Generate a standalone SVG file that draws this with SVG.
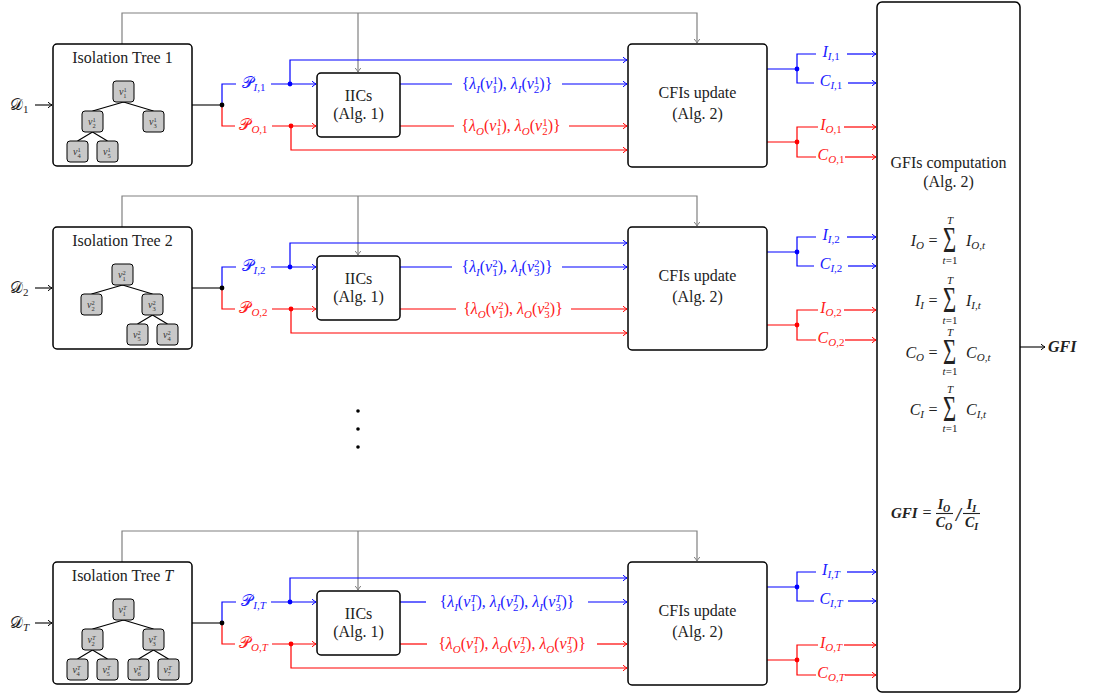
<svg xmlns="http://www.w3.org/2000/svg" width="1099" height="695" viewBox="0 0 1099 695">
<style>
text{font-family:"Liberation Serif","DejaVu Serif",serif;font-size:16px;fill:#222}
.m{font-style:italic}
.s{font-size:11px}
.bf{font-weight:bold}
.nv{font-size:10px;font-style:italic;fill:#333}
.ns{font-size:6.5px;font-style:normal}
.nsi{font-size:6.5px;font-style:italic}
.tb{fill:#2020ff}
.tr{fill:#ff2020}
.box{fill:#fff;stroke:#000;stroke-width:1.5}
.node{fill:#c8c8c8;stroke:#000;stroke-width:1}
.b{fill:none;stroke:#0000ff;stroke-width:1.2}
.r{fill:none;stroke:#ff0000;stroke-width:1.2}
.g{fill:none;stroke:#808080;stroke-width:1.2}
.k{fill:none;stroke:#000;stroke-width:1.1}
.sig{font-size:30px}
.f14{font-size:14px}
.f10{font-size:10px}
.db{fill:#0000ff}.dr{fill:#ff0000}.dk{fill:#000}
</style>
<defs>
<marker id="ab" viewBox="-5 -4 6 8" refX="0" refY="0" markerWidth="6" markerHeight="8" markerUnits="userSpaceOnUse" orient="auto"><path d="M-4,-2.8 Q-1.2,-0.6 0,0 Q-1.2,0.6 -4,2.8" fill="none" stroke="#0000ff" stroke-width="1"/></marker>
<marker id="ar" viewBox="-5 -4 6 8" refX="0" refY="0" markerWidth="6" markerHeight="8" markerUnits="userSpaceOnUse" orient="auto"><path d="M-4,-2.8 Q-1.2,-0.6 0,0 Q-1.2,0.6 -4,2.8" fill="none" stroke="#ff0000" stroke-width="1"/></marker>
<marker id="ag" viewBox="-5 -4 6 8" refX="0" refY="0" markerWidth="6" markerHeight="8" markerUnits="userSpaceOnUse" orient="auto"><path d="M-4,-2.8 Q-1.2,-0.6 0,0 Q-1.2,0.6 -4,2.8" fill="none" stroke="#808080" stroke-width="1"/></marker>
<marker id="ak" viewBox="-5 -4 6 8" refX="0" refY="0" markerWidth="6" markerHeight="8" markerUnits="userSpaceOnUse" orient="auto"><path d="M-4,-2.8 Q-1.2,-0.6 0,0 Q-1.2,0.6 -4,2.8" fill="none" stroke="#000" stroke-width="1"/></marker>
</defs>
<rect width="1099" height="695" fill="#fff"/>

<!-- ================= CONNECTORS ================= -->
<g id="connectors">
  <!-- row 1 -->
  <g id="conn-row1">
    <path class="g" d="M122,44 V13 H697 V43" marker-end="url(#ag)"/>
    <path class="g" d="M358,13 V72" marker-end="url(#ag)"/>
    <path class="k" d="M35,105 H52" marker-end="url(#ak)"/>
    <path class="k" d="M192,105 H222"/>
    <path class="b" d="M222,105 V84 H236"/>
    <path class="b" d="M271,84 H316" marker-end="url(#ab)"/>
    <path class="b" d="M290,84 V60 H627" marker-end="url(#ab)"/>
    <path class="b" d="M400,84 H452"/>
    <path class="b" d="M562,84 H627" marker-end="url(#ab)"/>
    <path class="r" d="M222,105 V126 H235"/>
    <path class="r" d="M272,126 H316" marker-end="url(#ar)"/>
    <path class="r" d="M291,126 V150 H627" marker-end="url(#ar)"/>
    <path class="r" d="M400,126 H454"/>
    <path class="r" d="M569,126 H627" marker-end="url(#ar)"/>
    <path class="b" d="M767,69 H797 M816,54 H797 V83 H814"/>
    <path class="b" d="M847,54 H876" marker-end="url(#ab)"/>
    <path class="b" d="M848,83 H876" marker-end="url(#ab)"/>
    <path class="r" d="M767,142 H797 M818,127 H797 V157 H816"/>
    <path class="r" d="M844,127 H876" marker-end="url(#ar)"/>
    <path class="r" d="M845,157 H876" marker-end="url(#ar)"/>
    <circle class="dk" cx="222" cy="105" r="2.4"/>
    <circle class="db" cx="290" cy="84" r="2.4"/>
    <circle class="dr" cx="291" cy="126" r="2.4"/>
    <circle class="db" cx="797" cy="69" r="2.4"/>
    <circle class="dr" cx="797" cy="142" r="2.4"/>
    <text x="10" y="110">𝒟<tspan class="s" dy="3">1</tspan></text>
    <text class="tb" x="253.5" y="88" text-anchor="middle">𝒫<tspan class="s m" dy="3">I</tspan><tspan class="s">,1</tspan></text>
    <text class="tr" x="253.5" y="130" text-anchor="middle">𝒫<tspan class="s m" dy="3">O</tspan><tspan class="s">,1</tspan></text>
    <text class="tb" x="507" y="89" text-anchor="middle">{<tspan class="m">λ</tspan><tspan class="s m" dy="3.5">I</tspan><tspan dy="-3.5">(</tspan><tspan class="m">v</tspan><tspan class="s" dy="-5.5">1</tspan><tspan class="s" dx="-5.5" dy="9">1</tspan><tspan dy="-3.5">), </tspan><tspan class="m">λ</tspan><tspan class="s m" dy="3.5">I</tspan><tspan dy="-3.5">(</tspan><tspan class="m">v</tspan><tspan class="s" dy="-5.5">1</tspan><tspan class="s" dx="-5.5" dy="9">2</tspan><tspan dy="-3.5">)}</tspan></text>
    <text class="tr" x="511" y="131" text-anchor="middle">{<tspan class="m">λ</tspan><tspan class="s m" dy="3.5">O</tspan><tspan dy="-3.5">(</tspan><tspan class="m">v</tspan><tspan class="s" dy="-5.5">1</tspan><tspan class="s" dx="-5.5" dy="9">1</tspan><tspan dy="-3.5">), </tspan><tspan class="m">λ</tspan><tspan class="s m" dy="3.5">O</tspan><tspan dy="-3.5">(</tspan><tspan class="m">v</tspan><tspan class="s" dy="-5.5">1</tspan><tspan class="s" dx="-5.5" dy="9">2</tspan><tspan dy="-3.5">)}</tspan></text>
    <text class="tb" x="831" y="57" text-anchor="middle"><tspan class="m">I</tspan><tspan class="s m" dy="3">I</tspan><tspan class="s">,1</tspan></text>
    <text class="tb" x="831" y="86" text-anchor="middle"><tspan class="m">C</tspan><tspan class="s m" dy="3">I</tspan><tspan class="s">,1</tspan></text>
    <text class="tr" x="831" y="130" text-anchor="middle"><tspan class="m">I</tspan><tspan class="s m" dy="3">O</tspan><tspan class="s">,1</tspan></text>
    <text class="tr" x="831" y="160" text-anchor="middle"><tspan class="m">C</tspan><tspan class="s m" dy="3">O</tspan><tspan class="s">,1</tspan></text>
  </g>
  <!-- row 2 -->
  <g id="conn-row2" transform="translate(0,183)">
    <path class="g" d="M122,44 V13 H697 V43" marker-end="url(#ag)"/>
    <path class="g" d="M358,13 V72" marker-end="url(#ag)"/>
    <path class="k" d="M35,105 H52" marker-end="url(#ak)"/>
    <path class="k" d="M192,105 H222"/>
    <path class="b" d="M222,105 V84 H236"/>
    <path class="b" d="M271,84 H316" marker-end="url(#ab)"/>
    <path class="b" d="M290,84 V60 H627" marker-end="url(#ab)"/>
    <path class="b" d="M400,84 H452"/>
    <path class="b" d="M562,84 H627" marker-end="url(#ab)"/>
    <path class="r" d="M222,105 V126 H235"/>
    <path class="r" d="M272,126 H316" marker-end="url(#ar)"/>
    <path class="r" d="M291,126 V150 H627" marker-end="url(#ar)"/>
    <path class="r" d="M400,126 H456"/>
    <path class="r" d="M571,126 H627" marker-end="url(#ar)"/>
    <path class="b" d="M767,69 H797 M816,54 H797 V83 H814"/>
    <path class="b" d="M847,54 H876" marker-end="url(#ab)"/>
    <path class="b" d="M848,83 H876" marker-end="url(#ab)"/>
    <path class="r" d="M767,142 H797 M818,127 H797 V157 H816"/>
    <path class="r" d="M844,127 H876" marker-end="url(#ar)"/>
    <path class="r" d="M845,157 H876" marker-end="url(#ar)"/>
    <circle class="dk" cx="222" cy="105" r="2.4"/>
    <circle class="db" cx="290" cy="84" r="2.4"/>
    <circle class="dr" cx="291" cy="126" r="2.4"/>
    <circle class="db" cx="797" cy="69" r="2.4"/>
    <circle class="dr" cx="797" cy="142" r="2.4"/>
    <text x="10" y="110">𝒟<tspan class="s" dy="3">2</tspan></text>
    <text class="tb" x="253.5" y="88" text-anchor="middle">𝒫<tspan class="s m" dy="3">I</tspan><tspan class="s">,2</tspan></text>
    <text class="tr" x="253.5" y="130" text-anchor="middle">𝒫<tspan class="s m" dy="3">O</tspan><tspan class="s">,2</tspan></text>
    <text class="tb" x="507" y="89" text-anchor="middle">{<tspan class="m">λ</tspan><tspan class="s m" dy="3.5">I</tspan><tspan dy="-3.5">(</tspan><tspan class="m">v</tspan><tspan class="s" dy="-5.5">2</tspan><tspan class="s" dx="-5.5" dy="9">1</tspan><tspan dy="-3.5">), </tspan><tspan class="m">λ</tspan><tspan class="s m" dy="3.5">I</tspan><tspan dy="-3.5">(</tspan><tspan class="m">v</tspan><tspan class="s" dy="-5.5">2</tspan><tspan class="s" dx="-5.5" dy="9">3</tspan><tspan dy="-3.5">)}</tspan></text>
    <text class="tr" x="513" y="131" text-anchor="middle">{<tspan class="m">λ</tspan><tspan class="s m" dy="3.5">O</tspan><tspan dy="-3.5">(</tspan><tspan class="m">v</tspan><tspan class="s" dy="-5.5">2</tspan><tspan class="s" dx="-5.5" dy="9">1</tspan><tspan dy="-3.5">), </tspan><tspan class="m">λ</tspan><tspan class="s m" dy="3.5">O</tspan><tspan dy="-3.5">(</tspan><tspan class="m">v</tspan><tspan class="s" dy="-5.5">2</tspan><tspan class="s" dx="-5.5" dy="9">3</tspan><tspan dy="-3.5">)}</tspan></text>
    <text class="tb" x="831" y="57" text-anchor="middle"><tspan class="m">I</tspan><tspan class="s m" dy="3">I</tspan><tspan class="s">,2</tspan></text>
    <text class="tb" x="831" y="86" text-anchor="middle"><tspan class="m">C</tspan><tspan class="s m" dy="3">I</tspan><tspan class="s">,2</tspan></text>
    <text class="tr" x="831" y="130" text-anchor="middle"><tspan class="m">I</tspan><tspan class="s m" dy="3">O</tspan><tspan class="s">,2</tspan></text>
    <text class="tr" x="831" y="160" text-anchor="middle"><tspan class="m">C</tspan><tspan class="s m" dy="3">O</tspan><tspan class="s">,2</tspan></text>
  </g>
  <!-- row T -->
  <g id="conn-rowT" transform="translate(0,518)">
    <path class="g" d="M122,44 V13 H697 V43" marker-end="url(#ag)"/>
    <path class="g" d="M358,13 V72" marker-end="url(#ag)"/>
    <path class="k" d="M35,105 H52" marker-end="url(#ak)"/>
    <path class="k" d="M192,105 H222"/>
    <path class="b" d="M222,105 V84 H236"/>
    <path class="b" d="M271,84 H316" marker-end="url(#ab)"/>
    <path class="b" d="M290,84 V60 H627" marker-end="url(#ab)"/>
    <path class="b" d="M400,84 H426"/>
    <path class="b" d="M588,84 H627" marker-end="url(#ab)"/>
    <path class="r" d="M222,105 V126 H235"/>
    <path class="r" d="M272,126 H316" marker-end="url(#ar)"/>
    <path class="r" d="M291,126 V150 H627" marker-end="url(#ar)"/>
    <path class="r" d="M400,126 H427"/>
    <path class="r" d="M597,126 H627" marker-end="url(#ar)"/>
    <path class="b" d="M767,69 H797 M816,54 H797 V83 H814"/>
    <path class="b" d="M847,54 H876" marker-end="url(#ab)"/>
    <path class="b" d="M848,83 H876" marker-end="url(#ab)"/>
    <path class="r" d="M767,142 H797 M818,127 H797 V157 H816"/>
    <path class="r" d="M844,127 H876" marker-end="url(#ar)"/>
    <path class="r" d="M845,157 H876" marker-end="url(#ar)"/>
    <circle class="dk" cx="222" cy="105" r="2.4"/>
    <circle class="db" cx="290" cy="84" r="2.4"/>
    <circle class="dr" cx="291" cy="126" r="2.4"/>
    <circle class="db" cx="797" cy="69" r="2.4"/>
    <circle class="dr" cx="797" cy="142" r="2.4"/>
    <text x="10" y="110">𝒟<tspan class="s m" dy="3">T</tspan></text>
    <text class="tb" x="253.5" y="88" text-anchor="middle">𝒫<tspan class="s m" dy="3">I</tspan><tspan class="s">,</tspan><tspan class="s m">T</tspan></text>
    <text class="tr" x="253.5" y="130" text-anchor="middle">𝒫<tspan class="s m" dy="3">O</tspan><tspan class="s">,</tspan><tspan class="s m">T</tspan></text>
    <text class="tb" x="507" y="89" text-anchor="middle">{<tspan class="m">λ</tspan><tspan class="s m" dy="3.5">I</tspan><tspan dy="-3.5">(</tspan><tspan class="m">v</tspan><tspan class="s m" dy="-5.5">T</tspan><tspan class="s" dx="-6" dy="9">1</tspan><tspan dx="0.5" dy="-3.5">), </tspan><tspan class="m">λ</tspan><tspan class="s m" dy="3.5">I</tspan><tspan dy="-3.5">(</tspan><tspan class="m">v</tspan><tspan class="s m" dy="-5.5">T</tspan><tspan class="s" dx="-6" dy="9">2</tspan><tspan dx="0.5" dy="-3.5">), </tspan><tspan class="m">λ</tspan><tspan class="s m" dy="3.5">I</tspan><tspan dy="-3.5">(</tspan><tspan class="m">v</tspan><tspan class="s m" dy="-5.5">T</tspan><tspan class="s" dx="-6" dy="9">3</tspan><tspan dx="0.5" dy="-3.5">)}</tspan></text>
    <text class="tr" x="512" y="131" text-anchor="middle">{<tspan class="m">λ</tspan><tspan class="s m" dy="3.5">O</tspan><tspan dy="-3.5">(</tspan><tspan class="m">v</tspan><tspan class="s m" dy="-5.5">T</tspan><tspan class="s" dx="-6" dy="9">1</tspan><tspan dx="0.5" dy="-3.5">), </tspan><tspan class="m">λ</tspan><tspan class="s m" dy="3.5">O</tspan><tspan dy="-3.5">(</tspan><tspan class="m">v</tspan><tspan class="s m" dy="-5.5">T</tspan><tspan class="s" dx="-6" dy="9">2</tspan><tspan dx="0.5" dy="-3.5">), </tspan><tspan class="m">λ</tspan><tspan class="s m" dy="3.5">O</tspan><tspan dy="-3.5">(</tspan><tspan class="m">v</tspan><tspan class="s m" dy="-5.5">T</tspan><tspan class="s" dx="-6" dy="9">3</tspan><tspan dx="0.5" dy="-3.5">)}</tspan></text>
    <text class="tb" x="831" y="57" text-anchor="middle"><tspan class="m">I</tspan><tspan class="s m" dy="3">I</tspan><tspan class="s">,</tspan><tspan class="s m">T</tspan></text>
    <text class="tb" x="831" y="86" text-anchor="middle"><tspan class="m">C</tspan><tspan class="s m" dy="3">I</tspan><tspan class="s">,</tspan><tspan class="s m">T</tspan></text>
    <text class="tr" x="831" y="130" text-anchor="middle"><tspan class="m">I</tspan><tspan class="s m" dy="3">O</tspan><tspan class="s">,</tspan><tspan class="s m">T</tspan></text>
    <text class="tr" x="831" y="160" text-anchor="middle"><tspan class="m">C</tspan><tspan class="s m" dy="3">O</tspan><tspan class="s">,</tspan><tspan class="s m">T</tspan></text>
  </g>
  <path class="k" d="M1020,347 H1045" marker-end="url(#ak)"/>
  <text class="bf m" x="1048" y="352" style="font-size:16px">GFI</text>
</g>

<!-- ================= NODES ================= -->
<!-- Row 1 -->
<g id="tree1">
  <rect class="box" x="53" y="44" width="139" height="122" rx="4"/>
  <text x="122.5" y="62.5" text-anchor="middle">Isolation Tree 1</text>
  <path class="k" d="M123.5,102 L92.5,111 M123.5,102 L153.5,111 M92.5,132 L77.5,141 M92.5,132 L107.5,141"/>
  <rect class="node" x="113" y="81" width="21" height="21" rx="3"/>
  <rect class="node" x="82" y="111" width="21" height="21" rx="3"/>
  <rect class="node" x="143" y="111" width="21" height="21" rx="3"/>
  <rect class="node" x="67" y="141" width="21" height="21" rx="3"/>
  <rect class="node" x="97" y="141" width="21" height="21" rx="3"/>
  <text class="nv" x="119" y="95">v<tspan class="ns" dy="-3.5">1</tspan><tspan class="ns" dx="-3.3" dy="6.5">1</tspan></text>
  <text class="nv" x="88" y="125">v<tspan class="ns" dy="-3.5">1</tspan><tspan class="ns" dx="-3.3" dy="6.5">2</tspan></text>
  <text class="nv" x="149" y="125">v<tspan class="ns" dy="-3.5">1</tspan><tspan class="ns" dx="-3.3" dy="6.5">3</tspan></text>
  <text class="nv" x="73" y="155">v<tspan class="ns" dy="-3.5">1</tspan><tspan class="ns" dx="-3.3" dy="6.5">4</tspan></text>
  <text class="nv" x="103" y="155">v<tspan class="ns" dy="-3.5">1</tspan><tspan class="ns" dx="-3.3" dy="6.5">5</tspan></text>
</g>
<g id="iic1">
  <rect class="box" x="317" y="73" width="83" height="64" rx="4"/>
  <text x="358.5" y="100.5" text-anchor="middle">IICs</text>
  <text x="358.5" y="118.5" text-anchor="middle">(Alg. 1)</text>
</g>
<g id="cfi1">
  <rect class="box" x="628" y="44" width="139" height="123" rx="4"/>
  <text x="697.5" y="98" text-anchor="middle">CFIs update</text>
  <text x="697.5" y="119" text-anchor="middle">(Alg. 2)</text>
</g>

<!-- Row 2 -->
<g id="tree2" transform="translate(0,183)">
  <rect class="box" x="53" y="44" width="139" height="122" rx="4"/>
  <text x="122.5" y="62.5" text-anchor="middle">Isolation Tree 2</text>
  <path class="k" d="M122.5,102 L91.5,111 M122.5,102 L152.5,111 M152.5,132 L137.5,141 M152.5,132 L167.5,141"/>
  <rect class="node" x="112" y="81" width="21" height="21" rx="3"/>
  <rect class="node" x="81" y="111" width="21" height="21" rx="3"/>
  <rect class="node" x="142" y="111" width="21" height="21" rx="3"/>
  <rect class="node" x="127" y="141" width="21" height="21" rx="3"/>
  <rect class="node" x="157" y="141" width="21" height="21" rx="3"/>
  <text class="nv" x="118" y="95">v<tspan class="ns" dy="-3.5">2</tspan><tspan class="ns" dx="-3.3" dy="6.5">1</tspan></text>
  <text class="nv" x="87" y="125">v<tspan class="ns" dy="-3.5">2</tspan><tspan class="ns" dx="-3.3" dy="6.5">2</tspan></text>
  <text class="nv" x="148" y="125">v<tspan class="ns" dy="-3.5">2</tspan><tspan class="ns" dx="-3.3" dy="6.5">3</tspan></text>
  <text class="nv" x="133" y="155">v<tspan class="ns" dy="-3.5">2</tspan><tspan class="ns" dx="-3.3" dy="6.5">5</tspan></text>
  <text class="nv" x="163" y="155">v<tspan class="ns" dy="-3.5">2</tspan><tspan class="ns" dx="-3.3" dy="6.5">4</tspan></text>
</g>
<g id="iic2" transform="translate(0,183)">
  <rect class="box" x="317" y="73" width="83" height="64" rx="4"/>
  <text x="358.5" y="100.5" text-anchor="middle">IICs</text>
  <text x="358.5" y="118.5" text-anchor="middle">(Alg. 1)</text>
</g>
<g id="cfi2" transform="translate(0,183)">
  <rect class="box" x="628" y="44" width="139" height="123" rx="4"/>
  <text x="697.5" y="98" text-anchor="middle">CFIs update</text>
  <text x="697.5" y="119" text-anchor="middle">(Alg. 2)</text>
</g>

<!-- vertical ellipsis -->
<g id="ellipsis">
  <circle class="dk" cx="358" cy="411" r="1.8"/>
  <circle class="dk" cx="358" cy="429" r="1.8"/>
  <circle class="dk" cx="358" cy="447" r="1.8"/>
</g>

<!-- Row T -->
<g id="treeT" transform="translate(0,518)">
  <rect class="box" x="53" y="44" width="139" height="122" rx="4"/>
  <text x="122.5" y="62.5" text-anchor="middle">Isolation Tree <tspan class="m">T</tspan></text>
  <path class="k" d="M123.5,102 L92.5,111 M123.5,102 L153.5,111 M92.5,132 L77.5,141 M92.5,132 L107.5,141 M153.5,132 L138.5,141 M153.5,132 L168.5,141"/>
  <rect class="node" x="113" y="81" width="21" height="21" rx="3"/>
  <rect class="node" x="82" y="111" width="21" height="21" rx="3"/>
  <rect class="node" x="143" y="111" width="21" height="21" rx="3"/>
  <rect class="node" x="67" y="141" width="21" height="21" rx="3"/>
  <rect class="node" x="97" y="141" width="21" height="21" rx="3"/>
  <rect class="node" x="128" y="141" width="21" height="21" rx="3"/>
  <rect class="node" x="158" y="141" width="21" height="21" rx="3"/>
  <text class="nv" x="118.5" y="95">v<tspan class="nsi" dy="-3.5">T</tspan><tspan class="ns" dx="-4" dy="6.5">1</tspan></text>
  <text class="nv" x="87.5" y="125">v<tspan class="nsi" dy="-3.5">T</tspan><tspan class="ns" dx="-4" dy="6.5">2</tspan></text>
  <text class="nv" x="148.5" y="125">v<tspan class="nsi" dy="-3.5">T</tspan><tspan class="ns" dx="-4" dy="6.5">3</tspan></text>
  <text class="nv" x="72.5" y="155">v<tspan class="nsi" dy="-3.5">T</tspan><tspan class="ns" dx="-4" dy="6.5">4</tspan></text>
  <text class="nv" x="102.5" y="155">v<tspan class="nsi" dy="-3.5">T</tspan><tspan class="ns" dx="-4" dy="6.5">5</tspan></text>
  <text class="nv" x="133.5" y="155">v<tspan class="nsi" dy="-3.5">T</tspan><tspan class="ns" dx="-4" dy="6.5">6</tspan></text>
  <text class="nv" x="163.5" y="155">v<tspan class="nsi" dy="-3.5">T</tspan><tspan class="ns" dx="-4" dy="6.5">7</tspan></text>
</g>
<g id="iicT" transform="translate(0,518)">
  <rect class="box" x="317" y="73" width="83" height="64" rx="4"/>
  <text x="358.5" y="100.5" text-anchor="middle">IICs</text>
  <text x="358.5" y="118.5" text-anchor="middle">(Alg. 1)</text>
</g>
<g id="cfiT" transform="translate(0,518)">
  <rect class="box" x="628" y="44" width="139" height="123" rx="4"/>
  <text x="697.5" y="98" text-anchor="middle">CFIs update</text>
  <text x="697.5" y="119" text-anchor="middle">(Alg. 2)</text>
</g>

<!-- GFI computation -->
<g id="gfi">
  <rect class="box" x="877" y="2" width="143" height="690" rx="5"/>
  <text x="948.5" y="168" text-anchor="middle">GFIs computation</text>
  <text x="948.5" y="187" text-anchor="middle">(Alg. 2)</text>

  <text x="924" y="246" text-anchor="end"><tspan class="m">I</tspan><tspan class="s m" dy="3">O</tspan></text>
  <text x="933" y="246" text-anchor="middle">=</text>
  <text class="sig" transform="translate(949.5,252) scale(0.75,1.2)" text-anchor="middle">Σ</text>
  <text class="s m" x="950" y="224" text-anchor="middle">T</text>
  <text class="s" x="950" y="263.5" text-anchor="middle"><tspan class="m">t</tspan>=1</text>
  <text x="966" y="246"><tspan class="m">I</tspan><tspan class="s m" dy="3">O</tspan><tspan class="s">,</tspan><tspan class="s m">t</tspan></text>

  <text x="924" y="306" text-anchor="end"><tspan class="m">I</tspan><tspan class="s m" dy="3">I</tspan></text>
  <text x="933" y="306" text-anchor="middle">=</text>
  <text class="sig" transform="translate(949.5,312) scale(0.75,1.2)" text-anchor="middle">Σ</text>
  <text class="s m" x="950" y="284" text-anchor="middle">T</text>
  <text class="s" x="950" y="323.5" text-anchor="middle"><tspan class="m">t</tspan>=1</text>
  <text x="966" y="306"><tspan class="m">I</tspan><tspan class="s m" dy="3">I</tspan><tspan class="s">,</tspan><tspan class="s m">t</tspan></text>

  <text x="924" y="357.5" text-anchor="end"><tspan class="m">C</tspan><tspan class="s m" dy="3">O</tspan></text>
  <text x="933" y="357.5" text-anchor="middle">=</text>
  <text class="sig" transform="translate(949.5,363.5) scale(0.75,1.2)" text-anchor="middle">Σ</text>
  <text class="s m" x="950" y="335.5" text-anchor="middle">T</text>
  <text class="s" x="950" y="375" text-anchor="middle"><tspan class="m">t</tspan>=1</text>
  <text x="966" y="357.5"><tspan class="m">C</tspan><tspan class="s m" dy="3">O</tspan><tspan class="s">,</tspan><tspan class="s m">t</tspan></text>

  <text x="924" y="414.5" text-anchor="end"><tspan class="m">C</tspan><tspan class="s m" dy="3">I</tspan></text>
  <text x="933" y="414.5" text-anchor="middle">=</text>
  <text class="sig" transform="translate(949.5,420.5) scale(0.75,1.2)" text-anchor="middle">Σ</text>
  <text class="s m" x="950" y="392.5" text-anchor="middle">T</text>
  <text class="s" x="950" y="432" text-anchor="middle"><tspan class="m">t</tspan>=1</text>
  <text x="966" y="414.5"><tspan class="m">C</tspan><tspan class="s m" dy="3">I</tspan><tspan class="s">,</tspan><tspan class="s m">t</tspan></text>

  <text class="bf m" x="891" y="518" style="font-size:15px">GFI</text>
  <text x="927" y="518" text-anchor="middle">=</text>
  <line x1="936" y1="513.5" x2="953" y2="513.5" stroke="#222" stroke-width="1.1"/>
  <text class="bf m f14" x="944" y="509" text-anchor="middle">I<tspan class="f10" dy="2.5">O</tspan></text>
  <text class="bf m f14" x="944" y="527" text-anchor="middle">C<tspan class="f10" dy="2.5">O</tspan></text>
  <text class="bf m" x="958.5" y="521" text-anchor="middle" style="font-size:18px">/</text>
  <line x1="963" y1="513.5" x2="980" y2="513.5" stroke="#222" stroke-width="1.1"/>
  <text class="bf m f14" x="971.5" y="509" text-anchor="middle">I<tspan class="f10" dy="2.5">I</tspan></text>
  <text class="bf m f14" x="971.5" y="527" text-anchor="middle">C<tspan class="f10" dy="2.5">I</tspan></text>
</g>
</svg>
